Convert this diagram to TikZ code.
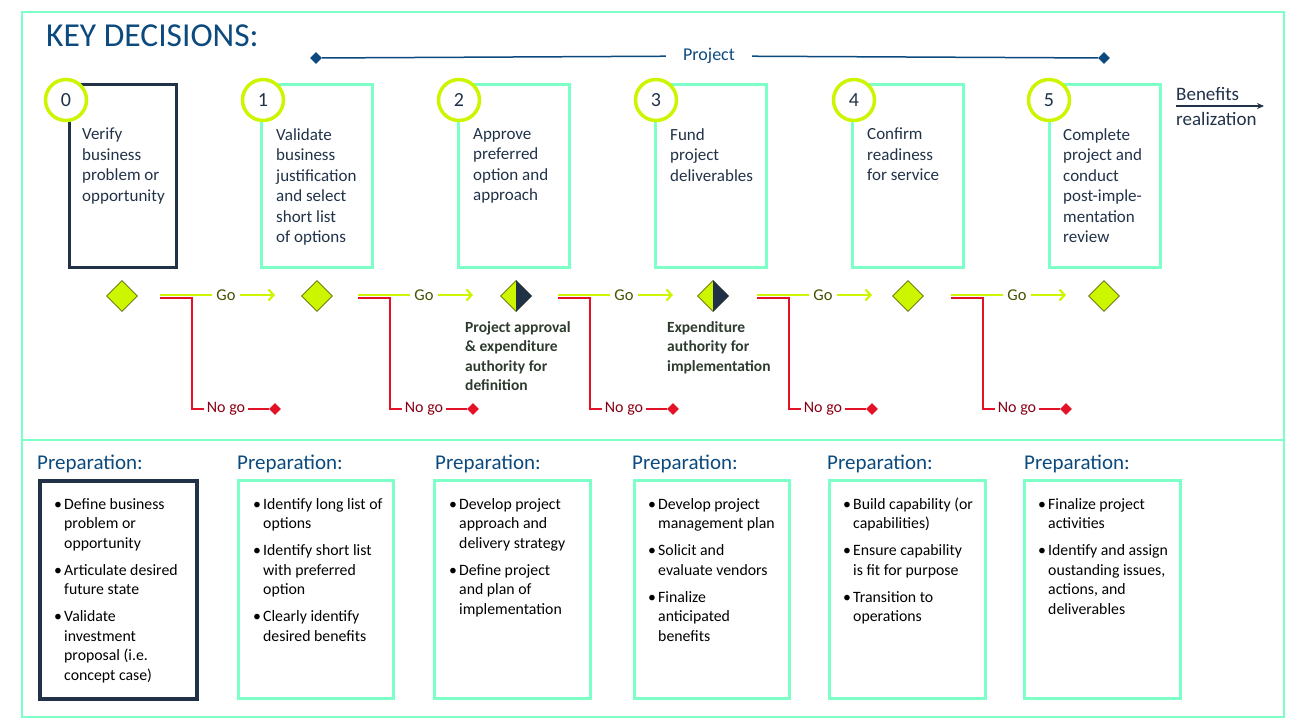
\documentclass[tikz,border=0pt]{standalone}
\usepackage{fontspec}
\setmainfont{Carlito}
\usetikzlibrary{shapes.geometric,arrows.meta,positioning}

\definecolor{mint}{RGB}{125,255,200}
\definecolor{navy}{RGB}{33,50,72}
\definecolor{lime}{RGB}{204,245,0}
\definecolor{olive}{RGB}{95,105,0}
\definecolor{gotext}{RGB}{70,80,0}
\definecolor{titleblue}{RGB}{12,74,126}
\definecolor{stopred}{RGB}{228,18,38}
\definecolor{nogotext}{RGB}{135,0,20}
\definecolor{captext}{RGB}{45,58,46}

\newcommand\decfont{\fontsize{17}{20.5}\selectfont}
\newcommand\prepfont{\fontsize{15.8}{19.5}\selectfont}
\newcommand\bul{\makebox[10pt][l]{\textbullet}}

\tikzset{
  decbox/.style={draw=#1, line width=3pt, anchor=north west, inner sep=0,
    minimum width=111, minimum height=183},
  decbox/.default=mint,
  prepbox/.style={draw=#1, line width=3pt, anchor=north west, inner sep=0,
    minimum width=156, minimum height=218},
  prepbox/.default=mint,
  numcircle/.style={circle, draw=lime, line width=3.5pt, fill=white, inner sep=0,
    minimum size=41, text=navy, font=\fontsize{20}{24}\selectfont},
  dectext/.style={anchor=north west, inner sep=0, align=left, text=navy, font=\decfont},
  preptext/.style={anchor=north west, inner sep=0, text=black, font=\prepfont},
  prephead/.style={anchor=base west, inner sep=0, text=titleblue, font=\fontsize{21}{25}\selectfont},
  gate/.style={diamond, aspect=1, draw=olive, line width=0.8pt, fill=lime, inner sep=0,
    minimum width=31, minimum height=31},
  stopmark/.style={diamond, aspect=1, fill=stopred, inner sep=0, minimum size=12},
  projtip/.style={diamond, aspect=1, fill=titleblue, inner sep=0, minimum size=12},
  goline/.style={draw=lime, line width=2.2pt},
  nogoline/.style={draw=stopred, line width=1.8pt},
  golabel/.style={text=gotext, inner xsep=4pt, inner ysep=0, font=\fontsize{16.5}{19}\selectfont},
  nogolabel/.style={text=nogotext, inner xsep=3pt, inner ysep=0, font=\fontsize{16}{19}\selectfont},
  caption/.style={anchor=north west, inner sep=0, align=left, text=captext,
    font=\fontsize{15.5}{19.5}\selectfont\bfseries},
}

\begin{document}
\begin{tikzpicture}[x=1pt,y=-1pt,>={Straight Barb[length=5pt,width=11pt]}]
\useasboundingbox (0,0) rectangle (1291,726);

% frame and split
\draw[mint, line width=1.5pt] (22,12) rectangle (1284,717);
\draw[mint, line width=1.5pt] (22,440) -- (1284,440);

\node[anchor=base west, inner sep=0, text=titleblue, font=\fontsize{33.5}{38}\selectfont] (title) at (46,46) {KEY DECISIONS:};

% project span
\node[projtip] (pl) at (316,58) {};
\node[projtip] (pr) at (1104,58) {};
\node[text=titleblue, inner xsep=17pt, inner ysep=0, font=\fontsize{18}{21}\selectfont] (proj) at (709,56) {Project};
\draw[titleblue, line width=1.5pt] (pl) -- (proj) (proj) -- (pr);

% decision boxes
\node[decbox=navy, minimum width=107] (d0) at (68,83) {};
\node[decbox] (d1) at (260,83) {};
\node[decbox] (d2) at (457,83) {};
\node[decbox] (d3) at (654,83) {};
\node[decbox] (d4) at (851,83) {};
\node[decbox] (d5) at (1048,83) {};

\node[dectext] (t0) at (82,128) {Verify\\business\\problem or\\opportunity};
\node[dectext] (t1) at (276,128) {Validate\\business\\justification\\and select\\short list\\of options};
\node[dectext] (t2) at (473,128) {Approve\\preferred\\option and\\approach};
\node[dectext] (t3) at (670,128) {Fund\\project\\deliverables};
\node[dectext] (t4) at (867,128) {Confirm\\readiness\\for service};
\node[dectext] (t5) at (1063,128) {Complete\\project and\\conduct\\post-imple-\\mentation\\review};

\node[numcircle] (c0) at (66,100) {0};
\node[numcircle] (c1) at (263,100) {1};
\node[numcircle] (c2) at (459,100) {2};
\node[numcircle] (c3) at (656,100) {3};
\node[numcircle] (c4) at (854,100) {4};
\node[numcircle] (c5) at (1049,100) {5};

% benefits
\node[anchor=base west, inner sep=0, text=navy, font=\fontsize{19}{23}\selectfont] (ben1) at (1176,100) {Benefits};
\node[anchor=base west, inner sep=0, text=navy, font=\fontsize{19}{23}\selectfont] (ben2) at (1176,125) {realization};
\coordinate (bs) at (1176,106);
\coordinate (be) at (1264,106);
\draw[navy, line width=1.5pt, -{Stealth[length=7pt,width=6pt]}] (bs) -- (be);

% gates
\foreach \i/\x in {0/122,1/317,2/516,3/713,4/908,5/1104}
  \node[gate] (g\i) at (\x,296) {};
\fill[navy] (g2.north) -- (g2.east) -- (g2.south) -- cycle;
\fill[navy] (g3.north) -- (g3.east) -- (g3.south) -- cycle;

% go / no go
\foreach \i/\x in {1/160,2/358,3/558,4/757,5/951}{
  \coordinate (s\i) at (\x,295);
  \coordinate (tip\i) at (\x+115,295);
  \node[golabel] (go\i) at (\x+66,295) {Go};
  \draw[goline] (s\i) -- (go\i.west);
  \draw[goline,->] (go\i.east) -- (tip\i);
  \coordinate (r\i) at (\x,298);
  \coordinate (k\i) at (\x+32,409);
  \node[nogolabel] (ng\i) at (\x+66,409) {No go};
  \node[stopmark] (stop\i) at (\x+115,409) {};
  \draw[nogoline] (r\i) -| (k\i) -- (ng\i.west);
  \draw[nogoline] (ng\i.east) -- (stop\i);
}

\node[caption] (cap2) at (465,321) {Project approval\\\& expenditure\\authority for\\definition};
\node[caption] (cap3) at (667,321) {Expenditure\\authority for\\implementation};

% preparation
\node[prephead] (h0) at (37,469) {Preparation:};
\node[prephead] (h1) at (237,469) {Preparation:};
\node[prephead] (h2) at (435,469) {Preparation:};
\node[prephead] (h3) at (632,469) {Preparation:};
\node[prephead] (h4) at (827,469) {Preparation:};
\node[prephead] (h5) at (1024,469) {Preparation:};

\node[prepbox=navy, line width=4pt, minimum width=157] (p0) at (38,479) {};
\node[prepbox, minimum width=155] (p1) at (237,479) {};
\node[prepbox] (p2) at (433,479) {};
\node[prepbox, minimum width=155] (p3) at (633,479) {};
\node[prepbox] (p4) at (828,479) {};
\node[prepbox] (p5) at (1023,479) {};

\node[preptext] (l0) at (54,495.5) {\begin{tabular}{@{}l@{}l@{}}
\bul & Define business\\ & problem or\\ & opportunity\\[7.5pt]
\bul & Articulate desired\\ & future state\\[7.5pt]
\bul & Validate\\ & investment\\ & proposal (i.e.\\ & concept case)
\end{tabular}};
\node[preptext] (l1) at (253,495.5) {\begin{tabular}{@{}l@{}l@{}}
\bul & Identify long list of\\ & options\\[7.5pt]
\bul & Identify short list\\ & with preferred\\ & option\\[7.5pt]
\bul & Clearly identify\\ & desired benefits
\end{tabular}};
\node[preptext] (l2) at (449,495.5) {\begin{tabular}{@{}l@{}l@{}}
\bul & Develop project\\ & approach and\\ & delivery strategy\\[7.5pt]
\bul & Define project\\ & and plan of\\ & implementation
\end{tabular}};
\node[preptext] (l3) at (648,495.5) {\begin{tabular}{@{}l@{}l@{}}
\bul & Develop project\\ & management plan\\[7.5pt]
\bul & Solicit and\\ & evaluate vendors\\[7.5pt]
\bul & Finalize\\ & anticipated\\ & benefits
\end{tabular}};
\node[preptext] (l4) at (843,495.5) {\begin{tabular}{@{}l@{}l@{}}
\bul & Build capability (or\\ & capabilities)\\[7.5pt]
\bul & Ensure capability\\ & is fit for purpose\\[7.5pt]
\bul & Transition to\\ & operations
\end{tabular}};
\node[preptext] (l5) at (1038,495.5) {\begin{tabular}{@{}l@{}l@{}}
\bul & Finalize project\\ & activities\\[7.5pt]
\bul & Identify and assign\\ & oustanding issues,\\ & actions, and\\ & deliverables
\end{tabular}};

\end{tikzpicture}
\end{document}
